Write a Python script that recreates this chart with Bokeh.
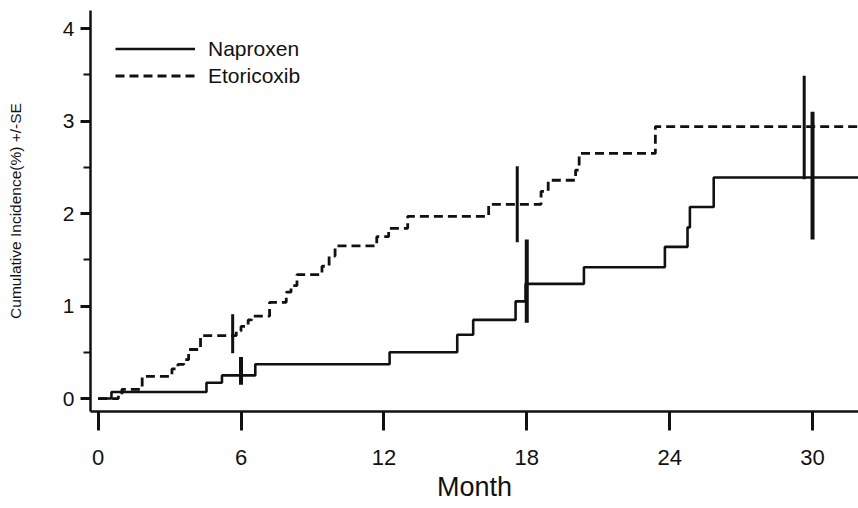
from bokeh.plotting import figure
from bokeh.models import FixedTicker, Legend, LegendItem, Range1d
from bokeh.embed import file_html
from bokeh.resources import INLINE

# ---- data ----
x_ticks = [0, 6, 12, 18, 24, 30]
y_ticks = [0, 1, 2, 3, 4]
y_minor = [0.5, 1.5, 2.5, 3.5]

napro_month = [0, 0.56, 4.55, 5.2, 6.6, 12.24, 15.08, 15.75, 17.53, 17.95,
               20.4, 23.8, 24.75, 24.85, 25.85, 32]
napro_cum = [0, 0.07, 0.17, 0.25, 0.37, 0.50, 0.69, 0.85, 1.05, 1.24,
             1.42, 1.64, 1.85, 2.07, 2.39, 2.39]

etori_month = [0, 0.85, 1.0, 1.85, 3.1, 3.35, 3.6, 3.8, 4.3, 5.8, 6.0, 6.3,
               6.45, 7.2, 7.9, 8.1, 8.35, 9.4, 9.7, 9.95, 11.7, 12.2, 13.0,
               16.4, 18.6, 18.9, 20.05, 20.2, 23.4, 32]
etori_cum = [0, 0.03, 0.10, 0.24, 0.32, 0.37, 0.42, 0.53, 0.68, 0.73, 0.78,
             0.85, 0.89, 1.04, 1.15, 1.22, 1.34, 1.43, 1.54, 1.65, 1.75, 1.84,
             1.97, 2.10, 2.24, 2.36, 2.47, 2.65, 2.94, 2.94]

napro_se_month = [6.0, 18.0, 30.0]
napro_se_mid = [0.30, 1.27, 2.41]
napro_se = [0.15, 0.45, 0.69]

etori_se_month = [5.65, 17.6, 29.65]
etori_se_mid = [0.70, 2.10, 2.93]
etori_se = [0.21, 0.41, 0.56]

FONT = "Liberation Sans"
INK = "#111111"

p = figure(width=858, height=508, output_backend="svg", toolbar_location=None,
           x_range=Range1d(-0.32, 31.93), y_range=Range1d(-0.14, 4.195),
           min_border_left=90, min_border_right=0, min_border_top=10,
           min_border_bottom=97)
p.outline_line_color = None
p.grid.visible = False
p.background_fill_color = "white"

r_n = p.step(napro_month, napro_cum, mode="after", line_color=INK,
             line_width=2.6)
r_e = p.step(etori_month, etori_cum, mode="after", line_color=INK,
             line_width=2.8, line_dash="9 5")

p.segment(x0=etori_se_month, x1=etori_se_month,
          y0=[m - s for m, s in zip(etori_se_mid, etori_se)],
          y1=[m + s for m, s in zip(etori_se_mid, etori_se)],
          line_color=INK, line_width=3)
p.segment(x0=napro_se_month, x1=napro_se_month,
          y0=[m - s for m, s in zip(napro_se_mid, napro_se)],
          y1=[m + s for m, s in zip(napro_se_mid, napro_se)],
          line_color=INK, line_width=4)

# axes
p.xaxis.ticker = FixedTicker(ticks=x_ticks, minor_ticks=[])
p.yaxis.ticker = FixedTicker(ticks=y_ticks, minor_ticks=y_minor)
for ax in (p.xaxis[0], p.yaxis[0]):
    ax.axis_line_width = 2.5
    ax.axis_line_color = INK
    ax.major_tick_line_width = 3
    ax.major_tick_line_color = INK
    ax.minor_tick_line_width = 2
    ax.minor_tick_line_color = INK
    ax.major_tick_in = 0
    ax.minor_tick_in = 0
    ax.major_label_text_font = FONT
    ax.major_label_text_color = INK
    ax.axis_label_text_color = INK
    ax.axis_label_text_font_style = "normal"

p.xaxis.major_tick_out = 19
p.xaxis.major_label_standoff = 19
p.xaxis.major_label_text_font_size = "22px"
p.xaxis.axis_label = "Month"
p.xaxis.axis_label_text_font = FONT
p.xaxis.axis_label_text_font_size = "27px"
p.xaxis.axis_label_standoff = 4

p.yaxis.major_tick_out = 10
p.yaxis.minor_tick_out = 7
p.yaxis.major_label_standoff = 6
p.yaxis.major_label_text_font_size = "21px"
p.yaxis.axis_label = "Cumulative Incidence(%) +/-SE"
p.yaxis.axis_label_text_font = FONT
p.yaxis.axis_label_text_font_size = "15.5px"
p.yaxis.axis_label_standoff = 36

legend = Legend(items=[LegendItem(label="Naproxen", renderers=[r_n]),
                       LegendItem(label="Etoricoxib", renderers=[r_e])],
                location="top_left", margin=25, padding=7,
                glyph_width=80, glyph_height=27, label_height=27, spacing=0,
                label_standoff=13, label_text_font=FONT,
                label_text_font_size="21px", label_text_color=INK,
                border_line_color=None, background_fill_alpha=0)
p.add_layout(legend)

open("out.html", "w").write(file_html(p, INLINE))
